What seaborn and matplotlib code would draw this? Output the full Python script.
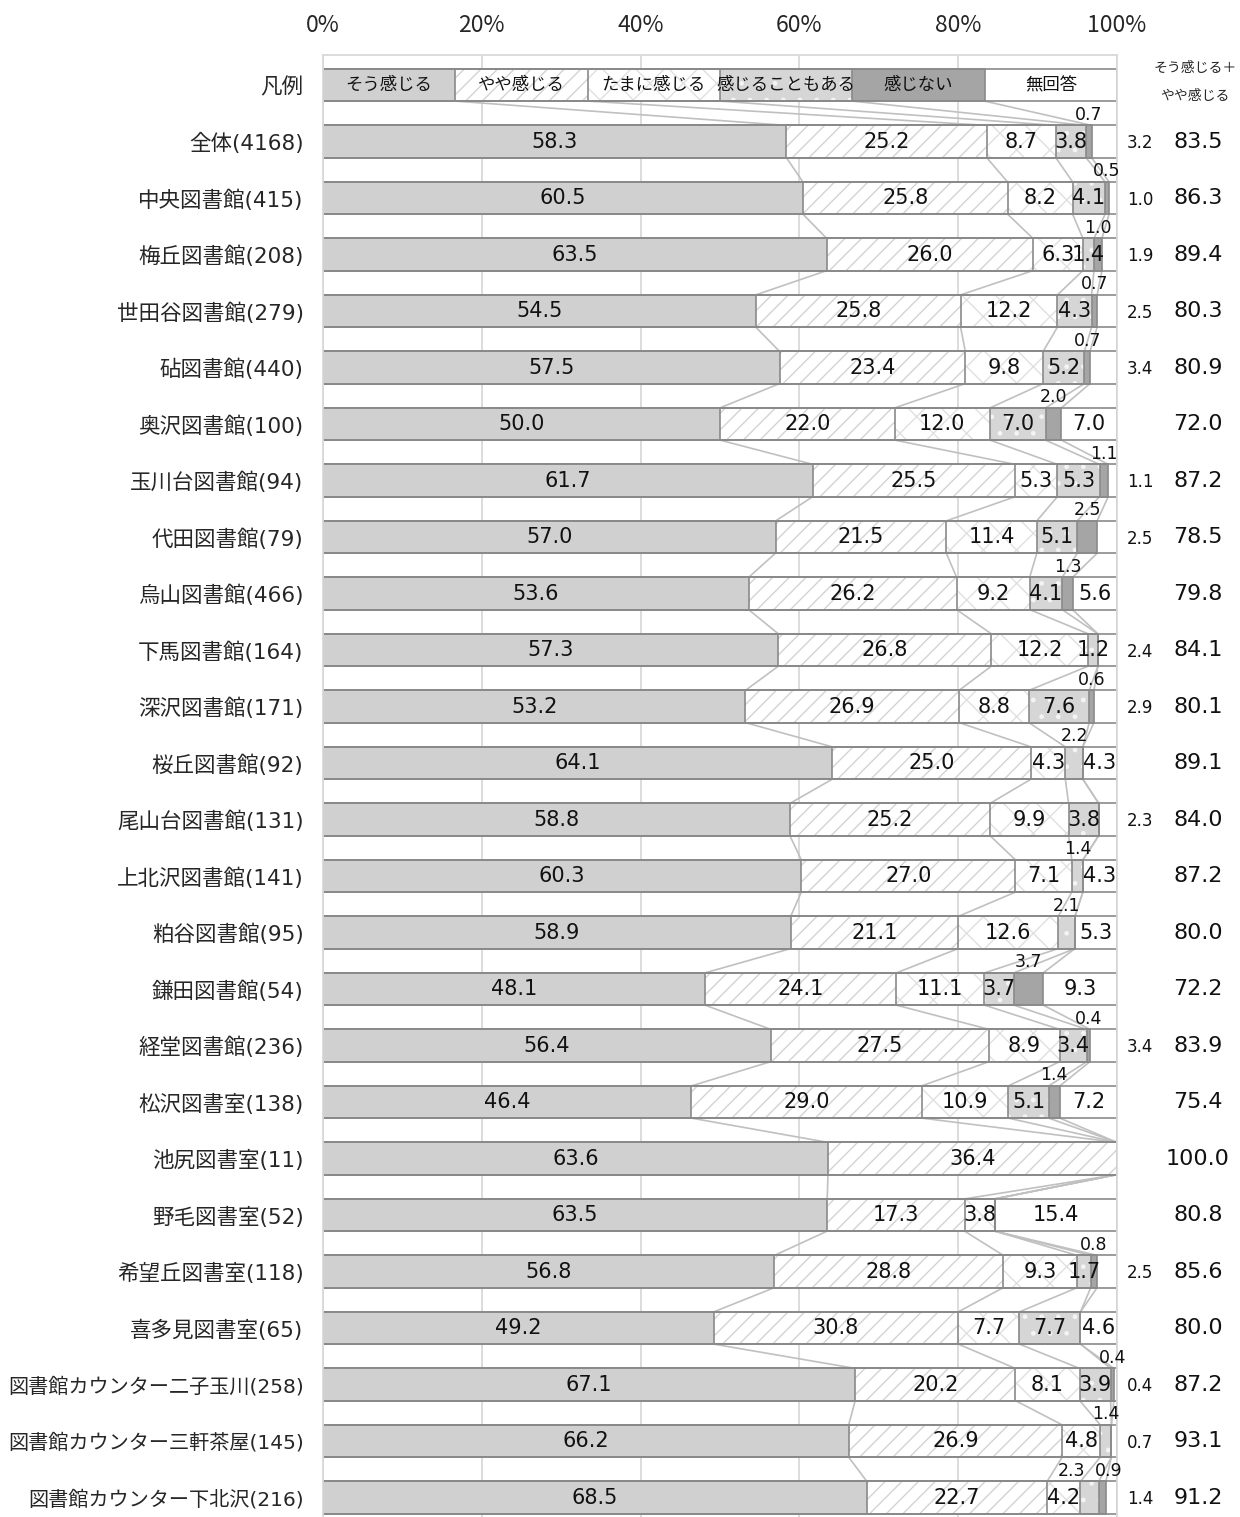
import numpy as np
import pandas as pd
import matplotlib
matplotlib.use("Agg")
import matplotlib.pyplot as plt
import seaborn as sns

# --- data ---
libraries = ["全体(4168)", "中央図書館(415)", "梅丘図書館(208)", "世田谷図書館(279)", "砧図書館(440)",
             "奥沢図書館(100)", "玉川台図書館(94)", "代田図書館(79)", "烏山図書館(466)", "下馬図書館(164)",
             "深沢図書館(171)", "桜丘図書館(92)", "尾山台図書館(131)", "上北沢図書館(141)", "粕谷図書館(95)",
             "鎌田図書館(54)", "経堂図書館(236)", "松沢図書室(138)", "池尻図書室(11)", "野毛図書室(52)",
             "希望丘図書室(118)", "喜多見図書室(65)", "図書館カウンター二子玉川(258)",
             "図書館カウンター三軒茶屋(145)", "図書館カウンター下北沢(216)"]
categories = ["そう感じる", "やや感じる", "たまに感じる", "感じることもある", "感じない", "無回答"]

sou = [58.3, 60.5, 63.5, 54.5, 57.5, 50.0, 61.7, 57.0, 53.6, 57.3, 53.2, 64.1, 58.8, 60.3, 58.9,
       48.1, 56.4, 46.4, 63.6, 63.5, 56.8, 49.2, 67.1, 66.2, 68.5]
yaya = [25.2, 25.8, 26.0, 25.8, 23.4, 22.0, 25.5, 21.5, 26.2, 26.8, 26.9, 25.0, 25.2, 27.0, 21.1,
        24.1, 27.5, 29.0, 36.4, 17.3, 28.8, 30.8, 20.2, 26.9, 22.7]
tama = [8.7, 8.2, 6.3, 12.2, 9.8, 12.0, 5.3, 11.4, 9.2, 12.2, 8.8, 4.3, 9.9, 7.1, 12.6,
        11.1, 8.9, 10.9, 0.0, 3.8, 9.3, 7.7, 8.1, 4.8, 4.2]
koto = [3.8, 4.1, 1.4, 4.3, 5.2, 7.0, 5.3, 5.1, 4.1, 1.2, 7.6, 2.2, 3.8, 1.4, 2.1,
        3.7, 3.4, 5.1, 0.0, 0.0, 1.7, 7.7, 3.9, 1.4, 2.3]
nai = [0.7, 0.5, 1.0, 0.7, 0.7, 2.0, 1.1, 2.5, 1.3, 0.0, 0.6, 0.0, 0.0, 0.0, 0.0,
       3.7, 0.4, 1.4, 0.0, 0.0, 0.8, 0.0, 0.4, 0.0, 0.9]
mukaito = [3.2, 1.0, 1.9, 2.5, 3.4, 7.0, 1.1, 2.5, 5.6, 2.4, 2.9, 4.3, 2.3, 4.3, 5.3,
           9.3, 3.4, 7.2, 0.0, 15.4, 2.5, 4.6, 0.4, 0.7, 1.4]
top2 = [83.5, 86.3, 89.4, 80.3, 80.9, 72.0, 87.2, 78.5, 79.8, 84.1, 80.1, 89.1, 84.0, 87.2, 80.0,
        72.2, 83.9, 75.4, 100.0, 80.8, 85.6, 80.0, 87.2, 93.1, 91.2]
# small "感じることもある" values whose label sits above the bar
koto_above = [False] * 11 + [True, False, True, True] + [False] * 8 + [True, True]

# --- styles per category: facecolor, hatch, hatch colour ---
styles = [("#d0d0d0", None, "#d0d0d0"),
          ("white", "//", "#d3d3d3"),
          ("white", "x", "#e0e0e0"),
          ("#d6d6d6", ".", "#f4f4f4"),
          ("#a5a5a5", None, "#a5a5a5"),
          ("white", None, "white")]
edge_col = "#8a8a8a"
line_col = "#c0c0c0"
bar_h = 0.57

sns.set_style("white")
plt.rcParams["font.family"] = ["DejaVu Sans", "Noto Sans CJK JP"]
plt.rcParams["hatch.linewidth"] = 1.0

names = ["凡例"] + libraries
vals = np.array([sou, yaya, tama, koto, nai, mukaito]).T
legend_row = np.full((1, 6), 100 / 6)
all_vals = np.vstack([legend_row, vals])
all_vals = all_vals / all_vals.sum(axis=1, keepdims=True) * 100
cum = np.cumsum(all_vals, axis=1)

df = pd.DataFrame(cum, columns=[f"c{k}" for k in range(6)])
df["name"] = names

fig = plt.figure(figsize=(12.4, 15.17), dpi=100)
ax = fig.add_axes([323 / 1240, 0, 794 / 1240, 1 - 55 / 1517])

# filled layers, drawn back to front as cumulative bars
for k in reversed(range(6)):
    fc, hatch, hc = styles[k]
    n0 = len(ax.patches)
    sns.barplot(data=df, x=f"c{k}", y="name", order=names, orient="h", width=bar_h,
                errorbar=None, saturation=1, color=fc, ax=ax)
    for p in ax.patches[n0:]:
        p.set_facecolor(fc)
        p.set_edgecolor(hc)
        p.set_linewidth(0)
        p.set_hatch(hatch)

# outlines
for k in range(6):
    n0 = len(ax.patches)
    sns.barplot(data=df, x=f"c{k}", y="name", order=names, orient="h", width=bar_h,
                errorbar=None, saturation=1, color="white", ax=ax)
    for p in ax.patches[n0:]:
        p.set_facecolor("none")
        p.set_edgecolor(edge_col)
        p.set_linewidth(1.2)
        p.set_hatch(None)

# series lines between rows
for i in range(len(names) - 1):
    for k in range(6):
        ax.plot([cum[i, k], cum[i + 1, k]], [i + bar_h / 2, i + 1 - bar_h / 2],
                color=line_col, lw=1.2, zorder=0.8)

# legend row labels
for k, cat in enumerate(categories):
    x0 = cum[0, k] - all_vals[0, k] / 2
    ax.text(x0, 0, cat, ha="center", va="center", fontsize=12.5,
            family=["Noto Sans CJK JP"], color="#111111")

# value labels
for r in range(len(libraries)):
    i = r + 1
    both_above = koto_above[r] and vals[r, 4] > 0
    for k in range(6):
        v = vals[r, k]
        if v <= 0:
            continue
        xc = cum[i, k] - all_vals[i, k] / 2
        txt = f"{v:.1f}"
        if k == 4 or (k == 3 and koto_above[r]):
            if both_above:
                xc += -2.3 if k == 3 else 0.8
            ax.text(xc, i - 0.47, txt, ha="center", va="center", fontsize=12.5, color="#111111")
        elif k == 5 and v < 4:
            ax.text(102.9, i + 0.03, txt, ha="center", va="center", fontsize=12,
                    color="#111111", clip_on=False)
        else:
            ax.text(xc, i, txt, ha="center", va="center", fontsize=15, color="#111111")
    ax.text(110.2, i, f"{top2[r]:.1f}", ha="center", va="center", fontsize=16,
            color="#111111", clip_on=False)

ax.text(109.8, -0.3, "そう感じる＋", ha="center", va="center", fontsize=10,
        family=["Noto Sans CJK JP"], clip_on=False)
ax.text(109.8, 0.2, "やや感じる", ha="center", va="center", fontsize=10,
        family=["Noto Sans CJK JP"], clip_on=False)

# axes cosmetics
ax.set_xlim(0, 100)
ax.set_ylim(len(names) - 1 + 0.345, -0.531)
ax.set_xlabel("")
ax.set_ylabel("")
ax.set_xticks([0, 20, 40, 60, 80, 100])
ax.set_xticklabels(["0%", "20%", "40%", "60%", "80%", "100%"], family=["Noto Sans CJK JP"],
                   fontsize=16.5)
ax.xaxis.tick_top()
ax.tick_params(axis="x", length=0, pad=13, labeltop=True, labelbottom=False)
ax.tick_params(axis="y", length=0, pad=14)
for lab in ax.get_yticklabels():
    lab.set_fontsize(14.5 if len(lab.get_text()) > 12 else 15.5)
ax.xaxis.grid(True, color="#d9d9d9", lw=1.3)
ax.set_axisbelow(True)
for side in ["top", "left", "right"]:
    ax.spines[side].set_color("#d9d9d9")
    ax.spines[side].set_linewidth(1.3)
ax.spines["bottom"].set_visible(False)

fig.savefig("out.png", dpi=100)
